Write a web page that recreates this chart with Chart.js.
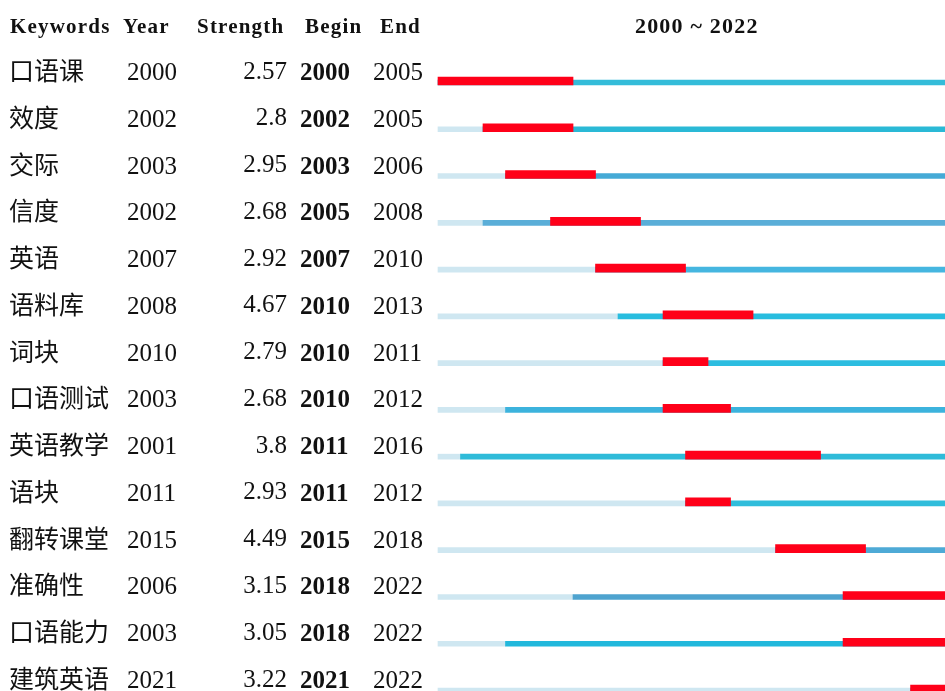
<!DOCTYPE html>
<html>
<head>
<meta charset="utf-8">
<script src="https://cdn.jsdelivr.net/npm/chart.js@4"></script>
<style>
  html, body { margin: 0; padding: 0; background: #fff; }
  canvas { display: block; }
</style>
</head>
<body>
<canvas id="grafica" width="945" height="691"></canvas>
<script>
const keywords = ['口语课', '效度', '交际', '信度', '英语', '语料库', '词块', '口语测试', '英语教学', '语块', '翻转课堂', '准确性', '口语能力', '建筑英语'];
const years = [2000, 2002, 2003, 2002, 2007, 2008, 2010, 2003, 2001, 2011, 2015, 2006, 2003, 2021];
const strengths = [2.57, 2.8, 2.95, 2.68, 2.92, 4.67, 2.79, 2.68, 3.8, 2.93, 4.49, 3.15, 3.05, 3.22];
const begins = [2000, 2002, 2003, 2005, 2007, 2010, 2010, 2010, 2011, 2011, 2015, 2018, 2018, 2021];
const ends = [2005, 2005, 2006, 2008, 2010, 2013, 2011, 2012, 2016, 2012, 2018, 2022, 2022, 2022];
const firstYear = 2000;
const lastYear = 2022;

// line colour per row (style only)
const lineColors = ['#34bcd9', '#2ab9d6', '#45aad6', '#5aaed8', '#45b6e0', '#28bddf', '#2cbde0',
                    '#3cb3dd', '#2fbbd9', '#30bddb', '#4eaad6', '#4ea3cf', '#22b8dc', '#3cb3dd'];
const red = '#ff0019';
const light = '#cfe7f1';

const serif = '"Liberation Serif", "Times New Roman", serif';
const cjk = '"Noto Sans CJK SC", sans-serif';

// 🔹 table text on the left + title
const tablePlugin = {
    id: 'tabla',
    afterDraw(chart) {
        const c = chart.ctx;
        const y = chart.scales.y;
        const x = chart.scales.x;
        c.save();
        c.fillStyle = '#111';
        c.textBaseline = 'alphabetic';

        // headers
        c.font = 'bold 21px ' + serif;
        c.letterSpacing = '1.2px';
        c.textAlign = 'left';
        c.fillText('Keywords', 10, 33);
        c.fillText('Year', 123, 33);
        c.fillText('Strength', 197, 33);
        c.fillText('Begin', 305, 33);
        c.fillText('End', 380, 33);

        c.font = 'bold 22px ' + serif;
        c.textAlign = 'center';
        const mid = (x.getPixelForValue(firstYear) + x.getPixelForValue(lastYear + 1)) / 2;
        c.fillText(firstYear + ' ~ ' + lastYear, mid, 33);
        c.letterSpacing = '0px';

        keywords.forEach((kw, i) => {
            const base = y.getPixelForValue(i) - 2.5;
            c.textAlign = 'left';
            c.font = '25px ' + cjk;
            c.fillText(kw, 9, base);
            c.font = '25px ' + serif;
            c.fillText(String(years[i]), 127, base);
            c.fillText(String(ends[i]), 373, base);
            c.textAlign = 'right';
            c.fillText(String(strengths[i]), 287, base - 1.5);
            c.textAlign = 'left';
            c.font = 'bold 25px ' + serif;
            c.fillText(String(begins[i]), 300, base);
        });
        c.restore();
    }
};

// red bars sit on the bottom edge of the line
const redShift = {
    id: 'redShift',
    beforeDatasetDraw(chart, args) {
        if (args.index === 0) { chart.ctx.save(); chart.ctx.translate(0, -1.5); }
    },
    afterDatasetDraw(chart, args) {
        if (args.index === 0) chart.ctx.restore();
    }
};

const ctx = document.getElementById('grafica').getContext('2d');
new Chart(ctx, {
    type: 'bar',
    data: {
        labels: keywords,
        datasets: [
            {
                label: 'burst',
                data: keywords.map((_, i) => [begins[i], ends[i] + 1]),
                backgroundColor: red,
                barThickness: 8,
                grouped: false,
                clip: false
            },
            {
                label: 'active',
                data: keywords.map((_, i) => [years[i], lastYear + 1]),
                backgroundColor: lineColors,
                barThickness: 5,
                grouped: false,
                clip: false
            },
            {
                label: 'before',
                data: keywords.map((_, i) => [firstYear, years[i]]),
                backgroundColor: light,
                barThickness: 5,
                grouped: false,
                clip: false
            }
        ]
    },
    options: {
        indexAxis: 'y',
        responsive: false,
        animation: false,
        layout: { padding: { left: 438, right: 0, top: 82.5, bottom: 0.5 } },
        scales: {
            x: { type: 'linear', min: firstYear, max: 2022.53, display: false },
            y: { type: 'category', offset: false, display: false }
        },
        plugins: {
            legend: { display: false },
            tooltip: { enabled: false }
        }
    },
    plugins: [tablePlugin, redShift]
});
</script>
</body>
</html>
